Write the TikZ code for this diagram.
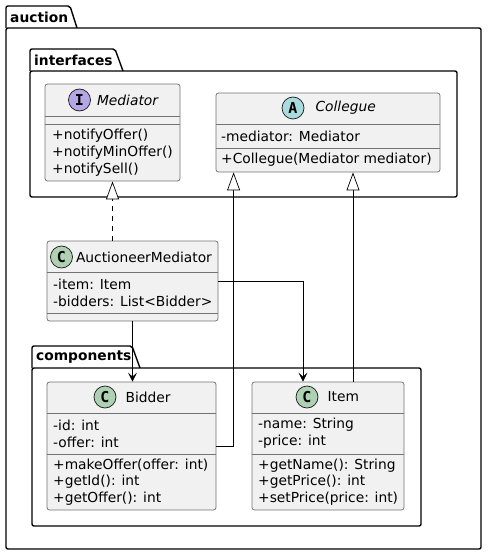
\documentclass[tikz,border=0pt]{standalone}
\usepackage{fontspec}
\setmainfont{DejaVu Sans}
\setmonofont{DejaVu Sans Mono}
\usetikzlibrary{arrows.meta,positioning}
\definecolor{classbg}{HTML}{F1F1F1}
\definecolor{classline}{HTML}{181818}
\definecolor{ifacecol}{HTML}{B4A7E5}
\definecolor{abstcol}{HTML}{A9DCDF}
\definecolor{classcol}{HTML}{ADD1B2}
\newcommand{\umltxt}{\fontsize{13.8}{16.8}\selectfont}

\tikzset{
    umlbox/.style={draw=black!55, fill=classbg, line width=0.8pt, rounded corners=2.5pt, inner sep=0pt},
    sepline/.style={draw=black!55, line width=0.8pt},
    pkg/.style={draw=black, line width=1.4pt, rounded corners=2pt},
    pkgname/.style={font=\umltxt\bfseries, anchor=west, inner sep=0pt},
    members/.style={font=\umltxt, anchor=west, align=left, inner sep=0pt},
    badge/.style={circle, draw=classline, line width=0.7pt, minimum size=22pt, inner sep=0pt, font=\fontsize{15}{15}\selectfont\ttfamily\bfseries},
    clsname/.style={font=\umltxt, inner sep=0pt},
    extends/.style={-{Triangle[open, length=18pt, width=13pt, fill=white]}, line width=0.7pt},
    assoc/.style={-{Stealth[length=9pt, width=9pt, inset=4pt]}, line width=0.7pt}
}

\begin{document}
\begin{tikzpicture}[x=1pt,y=-1pt]
                    \useasboundingbox (0,0) rectangle (487,556);
                    % packages
                    \draw[pkg] (6,28) -- (6,6) -- (70,6) -- (77,28);
                    \draw[pkg] (6,28) rectangle (481,549);
                    \node[pkgname] (auctionName) at (10,17) {auction};
                    \draw[pkg] (30,71) -- (30,49) -- (115,49) -- (123,71);
                    \draw[pkg] (30,71) rectangle (457,197);
                    \node[pkgname] (interfacesName) at (34,60) {interfaces};
                    \draw[pkg] (32,368) -- (32,346) -- (132,346) -- (140,368);
                    \draw[pkg] (32,368) rectangle (421,526);
                    \node[pkgname] (componentsName) at (36,357) {components};
                    % Mediator
                    \node[umlbox, minimum width=135pt, minimum height=97pt] (mediator) at (112.5,132.5) {};
                    \draw[sepline] (mediator.west |- 0,116) -- (mediator.east |- 0,116);
                    \draw[sepline] (mediator.west |- 0,124) -- (mediator.east |- 0,124);
                    \node[badge, fill=ifacecol] (mediatorBadge) at (79.5,100) {I};
                    \node[clsname, font=\umltxt\itshape, right=6pt of mediatorBadge] (mediatorName) {Mediator};
                    \node[members] (mediatorOps) at (52,152.5) {+notifyOffer()\\+notifyMinOffer()\\+notifySell()};
                    % Collegue
                    \node[umlbox, minimum width=224pt, minimum height=79pt] (collegue) at (328,132.5) {};
                    \draw[sepline] (collegue.west |- 0,124) -- (collegue.east |- 0,124);
                    \draw[sepline] (collegue.west |- 0,148) -- (collegue.east |- 0,148);
                    \node[badge, fill=abstcol] (collegueBadge) at (293,108) {A};
                    \node[clsname, font=\umltxt\itshape, right=11pt of collegueBadge] (collegueName) {Collegue};
                    \node[members] (collegueAttrs) at (221,136) {-mediator: Mediator};
                    \node[members] (collegueOps) at (221,160) {+Collegue(Mediator mediator)};
                    % AuctioneerMediator
                    \node[umlbox, minimum width=171pt, minimum height=80pt] (auctioneer) at (132.5,281) {};
                    \draw[sepline] (auctioneer.west |- 0,272) -- (auctioneer.east |- 0,272);
                    \draw[sepline] (auctioneer.west |- 0,313) -- (auctioneer.east |- 0,313);
                    \node[badge, fill=classcol] (auctioneerBadge) at (61.5,257) {C};
                    \node[clsname, right=3pt of auctioneerBadge] (auctioneerName) {AuctioneerMediator};
                    \node[members] (auctioneerAttrs) at (53,292.5) {-item: Item\\-bidders: List<Bidder>};
                    % Bidder
                    \node[umlbox, minimum width=169pt, minimum height=128pt] (bidder) at (131.5,446) {};
                    \draw[sepline] (bidder.west |- 0,413) -- (bidder.east |- 0,413);
                    \draw[sepline] (bidder.west |- 0,454) -- (bidder.east |- 0,454);
                    \node[badge, fill=classcol] (bidderBadge) at (105,397) {C};
                    \node[clsname, right=9pt of bidderBadge] (bidderName) {Bidder};
                    \node[members] (bidderAttrs) at (53,433.5) {-id: int\\-offer: int};
                    \node[members] (bidderOps) at (53,482) {+makeOffer(offer: int)\\+getId(): int\\+getOffer(): int};
                    % Item
                    \node[umlbox, minimum width=152pt, minimum height=128pt] (item) at (328,446) {};
                    \draw[sepline] (item.west |- 0,413) -- (item.east |- 0,413);
                    \draw[sepline] (item.west |- 0,454) -- (item.east |- 0,454);
                    \node[badge, fill=classcol] (itemBadge) at (307,397) {C};
                    \node[clsname, right=9pt of itemBadge] (itemName) {Item};
                    \node[members] (itemAttrs) at (258,433.5) {-name: String\\-price: int};
                    \node[members] (itemOps) at (258,482) {+getName(): String\\+getPrice(): int\\+setPrice(price: int)};
                    % relations
                    \draw[extends, dash pattern=on 5pt off 5pt] (auctioneer.north -| mediator.south) -- (mediator.south);
                    \draw[extends] (bidder.east) -| ([xshift=18pt]collegue.south west);
                    \draw[extends] ([xshift=25pt]item.north) -- ([xshift=25pt]item.north |- collegue.south);
                    \draw[assoc] (auctioneer.east) -| ([xshift=-25pt]item.north);
                    \draw[assoc] (auctioneer.south) -- (auctioneer.south |- bidder.north);
                \end{tikzpicture}
\end{document}
